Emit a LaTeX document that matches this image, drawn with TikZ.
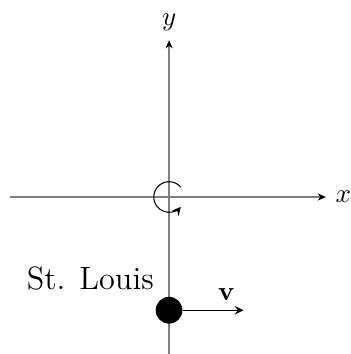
\documentclass[tikz,border=0pt]{standalone}
\usetikzlibrary{positioning,arrows.meta}
\begin{document}
\begin{tikzpicture}[axis/.style={-{Stealth[black,length=3pt,width=2.6pt,inset=.9pt]},gray,line width=.5pt},
  city/.style={circle,fill=black,inner sep=0pt,minimum size=3.5mm}]
\useasboundingbox (-2.21,-2.052) rectangle (2.366,2.575);
\coordinate (O) at (0,0);
\coordinate (xl) at (-2.08,0);
\coordinate (xr) at (2.05,0);
\coordinate (yb) at (0,-2.1);
\coordinate (yt) at (0,2.05);
\draw[axis] (xl)--(xr) node[right,black] (xlab) {$x$};
\draw[axis] (yb)--(yt) node[above,black] (ylab) {$y$};
\draw[-stealth] ([shift={(40:.2)}]O) arc (40:320:.2);
\node[city] (stl) at (0,-1.48) {};
\node (name) at (-1.03,-1.07) {\large St. Louis};
\coordinate (vend) at (0.97,-1.48);
\draw[-stealth] (stl)--(vend) node[pos=.72,above] (vlab) {$\mathbf{v}$};
\end{tikzpicture}
\end{document}
